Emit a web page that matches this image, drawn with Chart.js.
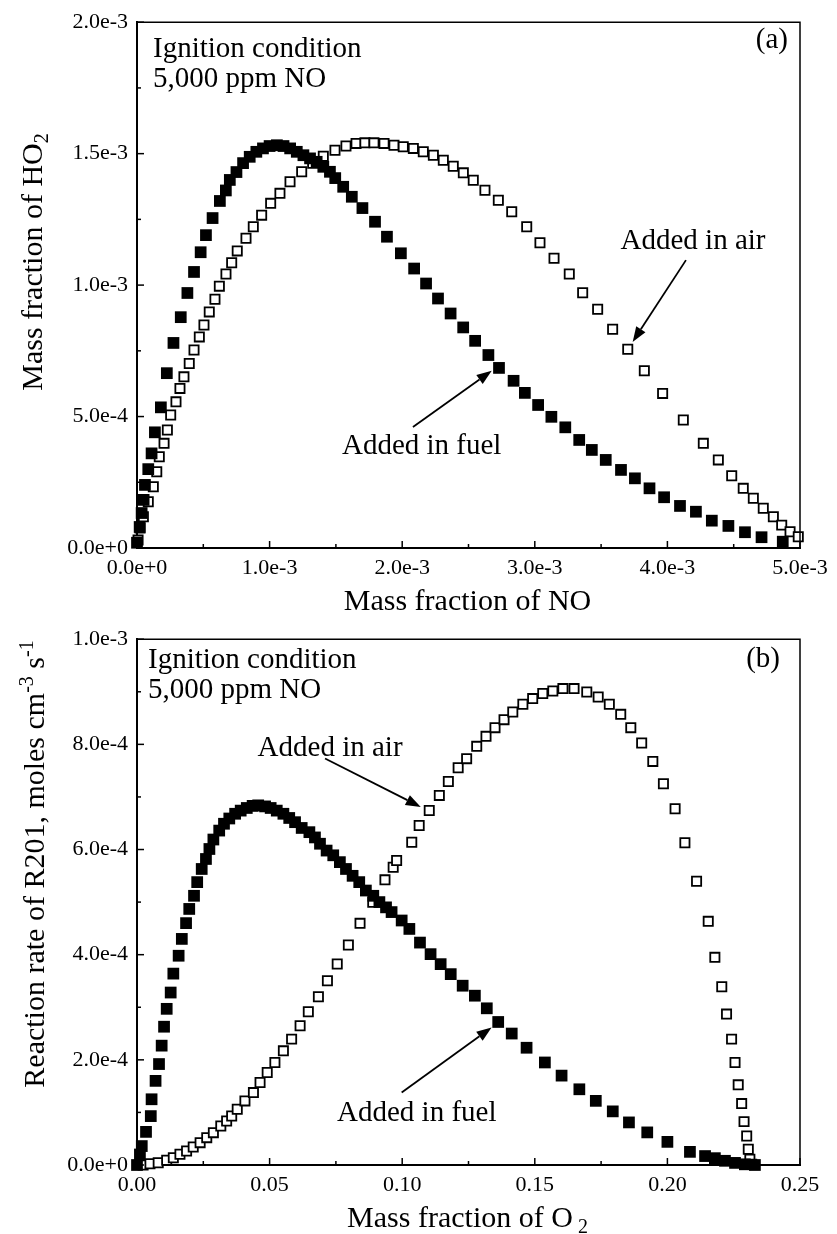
<!DOCTYPE html>
<html>
<head>
<meta charset="utf-8">
<script src="https://cdn.jsdelivr.net/npm/chart.js@4"></script>
<style>
  html, body { margin: 0; padding: 0; background: #fff; }
  #wrap { position: relative; width: 837px; height: 1234px; }
  canvas { position: absolute; left: 0; }
  #chart-a { top: 0; }
  #chart-b { top: 617px; }
</style>
</head>
<body>
<div id="wrap">
  <canvas id="chart-a" width="837" height="617"></canvas>
  <canvas id="chart-b" width="837" height="617"></canvas>
</div>
<script>
// ─────────────────────────────────────────────
//  DATA
// ─────────────────────────────────────────────

// (a) HO2 vs NO — both axes in units of 1e-3
const fuelNoX = [0.00,0.02,0.035,0.05,0.06,0.085,0.11,0.135,0.18,0.225,0.275,0.33,0.38,0.43,0.48,0.52,0.57,0.625,0.67,0.70,
  0.75,0.80,0.85,0.90,0.95,1.00,1.055,1.105,1.155,1.205,1.255,1.305,1.355,1.405,1.455,1.495,1.555,1.62,1.70,1.795,
  1.885,1.99,2.09,2.18,2.27,2.365,2.46,2.55,2.65,2.73,2.84,2.925,3.025,3.125,3.23,3.335,3.43,3.535,3.65,3.755,
  3.865,3.975,4.095,4.215,4.335,4.46,4.585,4.71,4.87];
const fuelHo2Y = [0.02,0.08,0.133,0.183,0.24,0.30,0.36,0.44,0.535,0.665,0.78,0.878,0.97,1.05,1.125,1.19,1.255,1.32,1.36,1.40,
  1.43,1.464,1.488,1.507,1.52,1.529,1.532,1.529,1.52,1.507,1.494,1.482,1.469,1.45,1.431,1.407,1.374,1.336,1.293,1.241,
  1.184,1.121,1.063,1.006,0.949,0.892,0.839,0.788,0.734,0.685,0.636,0.59,0.544,0.499,0.459,0.411,0.373,0.335,0.297,0.265,
  0.227,0.193,0.16,0.138,0.104,0.084,0.06,0.041,0.024];
const airNoX = [0.008,0.023,0.048,0.085,0.123,0.149,0.168,0.204,0.229,0.254,0.294,0.324,0.354,0.394,0.43,0.47,0.505,0.545,0.588,0.621,
  0.671,0.714,0.756,0.822,0.877,0.94,1.008,1.078,1.154,1.242,1.325,1.405,1.493,1.576,1.652,1.719,1.787,1.863,1.938,2.008,
  2.084,2.159,2.235,2.31,2.385,2.461,2.536,2.624,2.725,2.826,2.939,3.039,3.145,3.26,3.361,3.474,3.587,3.701,3.826,3.964,
  4.12,4.271,4.384,4.485,4.572,4.648,4.723,4.799,4.862,4.925,4.987];
const airHo2Y = [0.03,0.076,0.119,0.176,0.233,0.29,0.347,0.398,0.449,0.506,0.556,0.607,0.651,0.702,0.753,0.803,0.848,0.898,0.946,0.996,
  1.042,1.085,1.13,1.178,1.222,1.266,1.311,1.349,1.393,1.431,1.463,1.49,1.513,1.529,1.539,1.541,1.541,1.539,1.532,1.526,
  1.52,1.507,1.494,1.475,1.452,1.427,1.399,1.361,1.323,1.279,1.222,1.161,1.102,1.042,0.971,0.908,0.832,0.756,0.674,0.588,
  0.487,0.398,0.335,0.275,0.227,0.189,0.151,0.119,0.087,0.062,0.043];

// (b) R201 rate vs O2 — x is mass fraction, y in units of 1e-4
const fuelO2X = [0.0,0.0011,0.0018,0.0034,0.0052,0.0055,0.007,0.0083,0.0093,0.0102,0.0112,0.0127,0.0137,0.0157,0.0169,0.0185,0.0197,0.0215,0.0227,0.0244,
  0.026,0.0273,0.0288,0.031,0.0328,0.0348,0.037,0.0391,0.0414,0.0436,0.0457,0.0483,0.0504,0.0527,0.0552,0.0574,0.0596,0.0621,0.065,0.0671,
  0.069,0.0715,0.074,0.0765,0.0788,0.0813,0.0838,0.0863,0.0891,0.0914,0.0939,0.096,0.0998,0.1027,0.1067,0.1107,0.1145,0.1183,0.1228,0.1274,
  0.1319,0.1362,0.1413,0.1469,0.1538,0.1601,0.1668,0.173,0.1794,0.1855,0.1924,0.2,0.2085,0.2142,0.2179,0.2217,0.2255,0.2292,0.233];
const fuelR201Y = [0.0,0.2,0.36,0.63,0.93,1.25,1.6,1.92,2.27,2.63,2.97,3.28,3.64,3.98,4.3,4.6,4.87,5.12,5.38,5.63,
  5.82,6.01,6.19,6.36,6.49,6.59,6.68,6.74,6.79,6.83,6.84,6.82,6.79,6.74,6.68,6.6,6.52,6.41,6.33,6.23,
  6.11,5.98,5.89,5.76,5.63,5.5,5.38,5.22,5.12,5.0,4.9,4.81,4.65,4.49,4.23,4.01,3.82,3.63,3.41,3.22,
  2.98,2.72,2.5,2.23,1.95,1.7,1.44,1.22,1.02,0.81,0.62,0.44,0.25,0.17,0.13,0.08,0.04,0.013,0.0];
const airO2X = [0.0023,0.0049,0.008,0.0112,0.0137,0.0162,0.0187,0.0212,0.0238,0.0263,0.0288,0.0316,0.0338,0.0357,0.0378,0.0407,0.0439,0.0464,0.0491,0.052,
  0.0552,0.0583,0.0615,0.0646,0.0684,0.0718,0.0755,0.0797,0.0841,0.0889,0.0935,0.0966,0.0979,0.1036,0.1064,0.1102,0.114,0.1174,0.1211,0.1243,
  0.1281,0.1316,0.135,0.1384,0.1417,0.1455,0.1492,0.153,0.1568,0.1606,0.1648,0.1696,0.1739,0.1781,0.1824,0.1862,0.1903,0.1945,0.1985,0.2029,
  0.2066,0.211,0.2154,0.2179,0.2205,0.2223,0.2242,0.2255,0.2267,0.228,0.2289,0.2299,0.2305,0.2311,0.2318];
const airR201Y = [0.0,0.025,0.044,0.09,0.139,0.204,0.267,0.343,0.425,0.52,0.615,0.743,0.838,0.933,1.061,1.219,1.377,1.568,1.758,1.949,
  2.171,2.394,2.648,2.914,3.2,3.505,3.823,4.185,4.596,4.996,5.423,5.663,5.79,6.139,6.457,6.743,7.029,7.295,7.556,7.728,
  7.962,8.152,8.318,8.47,8.615,8.762,8.87,8.966,9.015,9.061,9.061,8.996,8.901,8.762,8.571,8.318,8.025,7.676,7.251,6.775,
  6.128,5.396,4.634,3.949,3.39,2.87,2.394,1.949,1.524,1.168,0.825,0.552,0.299,0.109,0.013];

// axis ranges: [min, max, minor step]
const noRange  = [0, 5e-3, 0.5e-3];
const ho2Range = [0, 2e-3, 0.25e-3];
const o2Range  = [0, 0.25, 0.025];
const rateRange = [0, 1e-3, 1e-4];

// annotations, in data units: text baseline anchor + arrow tail -> head
const notesA = [
  { text: 'Added in fuel', x: 2.147e-3, y: 0.357e-3, from: [2.081e-3, 0.460e-3], to: [2.675e-3, 0.674e-3] },
  { text: 'Added in air',  x: 4.193e-3, y: 1.136e-3, from: [4.140e-3, 1.095e-3], to: [3.738e-3, 0.784e-3] }
];
const notesB = [
  { text: 'Added in air',  x: 0.0728, y: 7.78e-4, from: [0.0709, 7.73e-4], to: [0.1070, 6.81e-4] },
  { text: 'Added in fuel', x: 0.1055, y: 0.84e-4, from: [0.0998, 1.377e-4], to: [0.1337, 2.615e-4] }
];

const FONT = '"Liberation Serif", "Times New Roman", serif';

// ─────────────────────────────────────────────
//  HELPERS
// ─────────────────────────────────────────────

const pts = (xs, ys, kx, ky) => xs.map((x, i) => ({ x: x * kx, y: ys[i] * ky }));
const expFmt = v => Math.abs(v) < 1e-12 ? '0.0e+0' : Number(v).toExponential(1);
const fixFmt = v => Number(v).toFixed(2);

function axis(range, fmt, isY) {
  return {
    type: 'linear',
    min: range[0], max: range[1],
    grid: { display: false, drawTicks: false },
    border: { display: true, color: '#000', width: 2 },
    ticks: {
      stepSize: range[2], autoSkip: false, maxRotation: 0, color: '#000',
      padding: isY ? 9 : 7,
      font: { family: FONT, size: 22 },
      callback: (v, i) => (i % 2 === 0 ? fmt(v) : '')
    },
    afterFit: s => { if (isY) s.width = 137; else s.height = 69; }
  };
}

function richText(ctx, parts, x, y) {
  const widths = parts.map(p => {
    ctx.font = (p.small ? 20 : 30) + 'px ' + FONT;
    return ctx.measureText(p.t).width;
  });
  let cx = x - widths.reduce((a, b) => a + b, 0) / 2;
  parts.forEach((p, i) => {
    ctx.font = (p.small ? 20 : 30) + 'px ' + FONT;
    ctx.fillText(p.t, cx, y + (p.dy || 0));
    cx += widths[i];
  });
}

function arrow(ctx, x0, y0, x1, y1) {
  const ang = Math.atan2(y1 - y0, x1 - x0), L = 15, W = 5.5;
  const bx = x1 - L * Math.cos(ang), by = y1 - L * Math.sin(ang);
  ctx.beginPath(); ctx.moveTo(x0, y0); ctx.lineTo(bx, by); ctx.stroke();
  ctx.beginPath();
  ctx.moveTo(x1, y1);
  ctx.lineTo(bx + W * Math.sin(ang), by - W * Math.cos(ang));
  ctx.lineTo(bx - W * Math.sin(ang), by + W * Math.cos(ang));
  ctx.closePath(); ctx.fill();
}

// frame, inward ticks, titles and annotations
function decorations(cfg) {
  return {
    id: 'decor',
    afterDraw(chart) {
      const { ctx, chartArea: a, scales } = chart;
      ctx.save();
      ctx.strokeStyle = '#000'; ctx.fillStyle = '#000';
      ctx.lineWidth = 1.5;
      ctx.beginPath();
      ctx.moveTo(a.left, a.top); ctx.lineTo(a.right, a.top); ctx.lineTo(a.right, a.bottom);
      ctx.stroke();

      ctx.lineWidth = 1.5;
      scales.x.ticks.forEach((t, i) => {
        const px = scales.x.getPixelForValue(t.value), len = i % 2 === 0 ? 7 : 4;
        ctx.beginPath(); ctx.moveTo(px, a.bottom); ctx.lineTo(px, a.bottom - len); ctx.stroke();
      });
      scales.y.ticks.forEach((t, i) => {
        const py = scales.y.getPixelForValue(t.value), len = i % 2 === 0 ? 7 : 4;
        ctx.beginPath(); ctx.moveTo(a.left, py); ctx.lineTo(a.left + len, py); ctx.stroke();
      });

      // inner texts
      ctx.textBaseline = 'alphabetic';
      ctx.font = '29px ' + FONT;
      ctx.textAlign = 'left';
      ctx.fillText('Ignition condition', a.left + cfg.box[0], a.top + cfg.box[1]);
      ctx.fillText('5,000 ppm NO', a.left + cfg.box[0], a.top + cfg.box[2]);
      ctx.textAlign = 'right';
      ctx.fillText(cfg.tag, a.right - cfg.tagPos[0], a.top + cfg.tagPos[1]);

      ctx.textAlign = 'center';
      ctx.lineWidth = 1.8;
      cfg.notes.forEach(n => {
        ctx.fillText(n.text, scales.x.getPixelForValue(n.x), scales.y.getPixelForValue(n.y));
        arrow(ctx,
          scales.x.getPixelForValue(n.from[0]), scales.y.getPixelForValue(n.from[1]),
          scales.x.getPixelForValue(n.to[0]), scales.y.getPixelForValue(n.to[1]));
      });

      // axis titles
      ctx.textAlign = 'left';
      richText(ctx, cfg.xTitle, (a.left + a.right) / 2 - 1, 610);
      ctx.translate(cfg.yTitle.x, cfg.yTitle.y);
      ctx.rotate(-Math.PI / 2);
      richText(ctx, cfg.yTitle.parts, 0, 0);
      ctx.restore();
    }
  };
}

function buildChart(id, datasets, xAxis, yAxis, cfg) {
  return new Chart(document.getElementById(id), {
    type: 'scatter',
    data: { datasets },
    options: {
      responsive: false,
      devicePixelRatio: 1,
      animation: false,
      events: [],
      layout: { padding: { top: 22, right: 37, bottom: 0, left: 0 } },
      plugins: { legend: { display: false }, tooltip: { enabled: false } },
      scales: { x: xAxis, y: yAxis }
    },
    plugins: [decorations(cfg)]
  });
}

const filled = data => ({
  data, showLine: false, clip: false,
  pointStyle: 'rect', pointRadius: 8.3,
  pointBackgroundColor: '#000', pointBorderColor: '#000', pointBorderWidth: 0
});
const open = data => ({
  data, showLine: false, clip: false,
  pointStyle: 'rect', pointRadius: 6.5,
  pointBackgroundColor: '#fff', pointBorderColor: '#000', pointBorderWidth: 1.8
});

// ─────────────────────────────────────────────
//  CHARTS
// ─────────────────────────────────────────────

buildChart('chart-a',
  [filled(pts(fuelNoX, fuelHo2Y, 1e-3, 1e-3)), open(pts(airNoX, airHo2Y, 1e-3, 1e-3))],
  axis(noRange, expFmt, false), axis(ho2Range, expFmt, true),
  {
    box: [16, 35, 65], tag: '(a)', tagPos: [12, 26], notes: notesA,
    xTitle: [{ t: 'Mass fraction of NO' }],
    yTitle: { x: 42, y: 262, parts: [{ t: 'Mass fraction of HO' }, { t: '2', small: true, dy: 6 }] }
  });

buildChart('chart-b',
  [filled(pts(fuelO2X, fuelR201Y, 1, 1e-4)), open(pts(airO2X, airR201Y, 1, 1e-4))],
  axis(o2Range, fixFmt, false), axis(rateRange, expFmt, true),
  {
    box: [11, 29, 59], tag: '(b)', tagPos: [20, 28], notes: notesB,
    xTitle: [{ t: 'Mass fraction of O' }, { t: ' 2', small: true, dy: 6 }],
    yTitle: {
      x: 44, y: 247,
      parts: [{ t: 'Reaction rate of R201, moles cm' }, { t: '-3', small: true, dy: -11 },
              { t: ' s' }, { t: '-1', small: true, dy: -11 }]
    }
  });
</script>
</body>
</html>
